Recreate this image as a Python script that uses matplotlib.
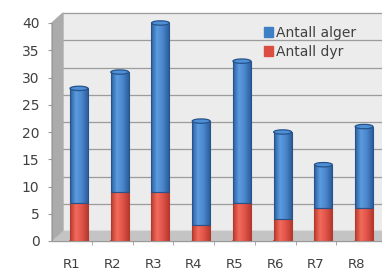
import numpy as np
import matplotlib.pyplot as plt
from matplotlib.patches import Polygon, Rectangle, Ellipse, Patch
from matplotlib.colors import LinearSegmentedColormap

# data
kategorier = ['R1', 'R2', 'R3', 'R4', 'R5', 'R6', 'R7', 'R8']
antall_dyr = [7, 9, 9, 3, 7, 4, 6, 6]
antall_alger = [21, 22, 31, 19, 26, 16, 8, 15]

blaa = LinearSegmentedColormap.from_list('blaa', ['#2C5F9E', '#5B9BDF', '#4A86CB', '#2C5F9E'])
roed = LinearSegmentedColormap.from_list('roed', ['#B83A2E', '#F26B5B', '#E0544A', '#B83A2E'])

fig = plt.figure(figsize=(3.82, 2.70), dpi=100)
ax = fig.add_axes([52 / 382, 1 - 241 / 270, 330 / 382, 218 / 270])
x0, x1 = -0.663, 7.44
ax.set_xlim(x0, x1)
ax.set_ylim(0, 40)
ax.set_facecolor('none')

# 3D-vegger
dx, dy = 0.27, 1.83
ax.add_patch(Rectangle((x0 + dx, dy), 10, 40, color='#ECECEC', zorder=0, clip_on=False))
ax.add_patch(Polygon([(x0, 0), (x0 + dx, dy), (x0 + dx, 40 + dy), (x0, 40)],
                     closed=True, color='#ABABAB', zorder=0.5, clip_on=False))
ax.add_patch(Polygon([(x0, 0), (10, 0), (10, dy), (x0 + dx, dy)],
                     closed=True, color='#C4C4C4', zorder=0.6, clip_on=False))
for v in range(0, 45, 5):
    ax.plot([x0 + dx, 10], [v + dy, v + dy], color='#9C9C9C', lw=0.9, zorder=0.4, clip_on=False)

x = np.arange(len(kategorier))
w = 0.44
grad = np.linspace(0, 1, 64).reshape(1, -1)

def sylinder(xi, bunn, topp, cmap, kant, lokk):
    r = Rectangle((xi - w / 2, bunn), w, topp - bunn, facecolor='none', edgecolor=kant, lw=0.8, zorder=3)
    ax.add_patch(r)
    im = ax.imshow(grad, cmap=cmap, extent=[xi - w / 2, xi + w / 2, bunn, topp],
                   aspect='auto', zorder=2, interpolation='bilinear')
    im.set_clip_path(r)
    if lokk:
        ax.add_patch(Ellipse((xi, topp), w, 0.8, facecolor='#4F8FD6', edgecolor=kant, lw=0.9, zorder=4, clip_on=False))

for i in range(len(kategorier)):
    ax.add_patch(Ellipse((x[i], 0), w, 0.8, facecolor='#D9483C', edgecolor='#A3362C', lw=0.8, zorder=1.9))
    sylinder(x[i], 0, antall_dyr[i], roed, '#B3392E', False)
    sylinder(x[i], antall_dyr[i], antall_dyr[i] + antall_alger[i], blaa, '#25538A', True)

ax.set_xlim(x0, x1)
ax.set_ylim(0, 40)

for s in ['top', 'right']:
    ax.spines[s].set_visible(False)
for s in ['left', 'bottom']:
    ax.spines[s].set_color('#9A9A9A')
    ax.spines[s].set_linewidth(0.8)

ax.set_yticks(range(0, 45, 5))
ax.tick_params(axis='y', length=3, color='#9A9A9A', pad=6, labelsize=10, labelcolor='#404040')
ax.set_xticks(x - 0.18)
ax.set_xticklabels(kategorier)
ax.set_xticks(x[:-1] + 0.5 - 0.18, minor=True)
ax.tick_params(axis='x', which='major', length=0, pad=12, labelsize=9.5, labelcolor='#404040')
ax.tick_params(axis='x', which='minor', length=3, color='#9A9A9A')

handles = [Patch(color='#3F7FC6', label='Antall alger'), Patch(color='#DC4E42', label='Antall dyr')]
fig.legend(handles=handles, loc='upper left', bbox_to_anchor=(258 / 382, 1 - 20 / 270),
           frameon=False, fontsize=10, handlelength=0.7, handleheight=0.7,
           handletextpad=0.2, labelspacing=0.4, labelcolor='#404040', borderaxespad=0)

fig.savefig('out.png', dpi=100)
